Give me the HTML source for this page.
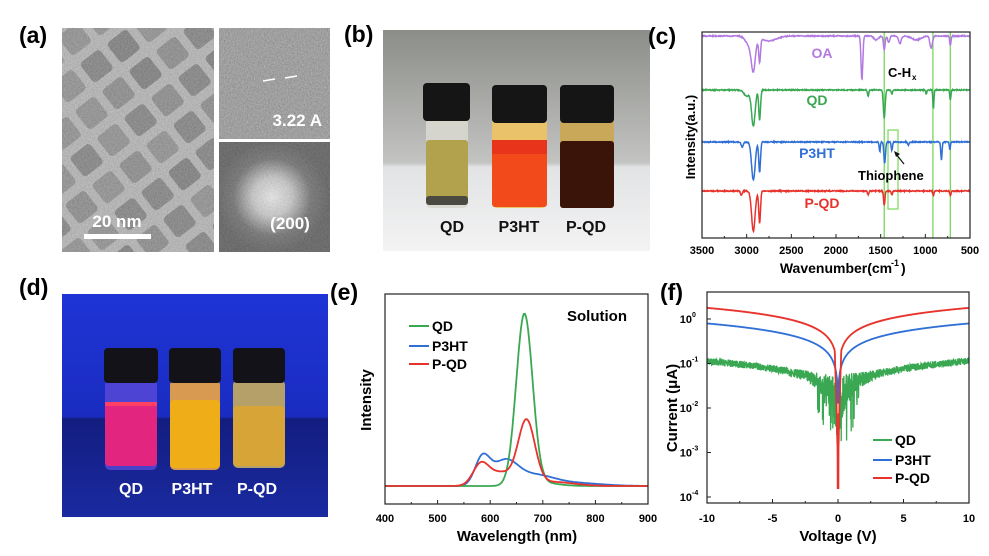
<!DOCTYPE html>
<html><head><meta charset="utf-8">
<style>
html,body{margin:0;padding:0;background:#fff;}
svg{display:block;font-family:"Liberation Sans",Arial,sans-serif;font-weight:bold;}
</style></head>
<body>
<svg id="s" width="989" height="556" viewBox="0 0 989 556" xmlns="http://www.w3.org/2000/svg">
<defs>
<filter id="grain" x="0" y="0" width="100%" height="100%">
<feTurbulence type="fractalNoise" baseFrequency="0.7" numOctaves="2" seed="5"/>
<feColorMatrix type="matrix" values="0.33 0.33 0.33 0 0  0.33 0.33 0.33 0 0  0.33 0.33 0.33 0 0  0 0 0 0 1"/>
</filter>
<radialGradient id="fft" cx="0.48" cy="0.5" r="0.5">
<stop offset="0" stop-color="#f4f4f4"/><stop offset="0.35" stop-color="#c8c8c8"/><stop offset="0.7" stop-color="#5a5a5a"/><stop offset="1" stop-color="#444"/>
</radialGradient>
<linearGradient id="bbg" x1="0" y1="0" x2="0" y2="1">
<stop offset="0" stop-color="#8b8d88"/><stop offset="0.6" stop-color="#c3c4c2"/><stop offset="0.62" stop-color="#e2e3e4"/><stop offset="1" stop-color="#f3f3f4"/>
</linearGradient>
<linearGradient id="dbg" x1="0" y1="0" x2="0" y2="1">
<stop offset="0" stop-color="#1f34d6"/><stop offset="0.55" stop-color="#1a2cc0"/><stop offset="0.56" stop-color="#131d80"/><stop offset="1" stop-color="#1a2aa0"/>
</linearGradient>
<clipPath id="tem"><rect x="62" y="28" width="152" height="224"/></clipPath>
</defs>

<!-- (a) -->
<text x="19" y="43" font-size="23">(a)</text>
<g clip-path="url(#tem)">
<rect x="62" y="28" width="152" height="224" fill="#b0b0b0"/>
<g id="squares" fill="#6e6e6e"></g>
</g>
<rect x="62" y="28" width="152" height="224" filter="url(#grain)" opacity="0.45"/>
<rect x="84" y="234" width="67" height="5" fill="#fff"/>
<text x="117" y="227" font-size="17" fill="#fff" text-anchor="middle">20 nm</text>
<rect x="219" y="28" width="111" height="111" fill="#777"/>
<rect x="219" y="28" width="111" height="111" filter="url(#grain)" opacity="0.6"/>
<line x1="263" y1="81" x2="275" y2="79" stroke="#fff" stroke-width="1.5"/>
<line x1="285" y1="78" x2="297" y2="76" stroke="#fff" stroke-width="1.5"/>
<text x="322" y="126" font-size="17" fill="#fff" text-anchor="end">3.22 A</text>
<rect x="219" y="142" width="111" height="110" fill="url(#fft)"/>
<rect x="219" y="142" width="111" height="110" filter="url(#grain)" opacity="0.35"/>
<text x="290" y="229" font-size="17" fill="#fff" text-anchor="middle">(200)</text>

<!-- (b) -->
<text x="344" y="42" font-size="23">(b)</text>
<rect x="383" y="30" width="267" height="221" fill="url(#bbg)"/>
<g>
<rect x="426" y="118" width="42" height="90" rx="5" fill="#d9d8cf" opacity="0.9"/>
<rect x="426" y="140" width="42" height="63" rx="3" fill="#b2a14d"/>
<rect x="426" y="196" width="42" height="9" rx="3" fill="#4a4a40"/>
<rect x="423" y="83" width="47" height="38" rx="4" fill="#151515"/>
<rect x="492" y="118" width="55" height="90" rx="5" fill="#e9c26a"/>
<rect x="492" y="140" width="55" height="67" rx="3" fill="#f24a1a"/>
<rect x="492" y="140" width="55" height="14" fill="#e8341a"/>
<rect x="492" y="85" width="55" height="38" rx="4" fill="#151515"/>
<rect x="560" y="118" width="54" height="90" rx="5" fill="#c9a85a"/>
<rect x="560" y="141" width="54" height="67" rx="3" fill="#3a1408"/>
<rect x="560" y="85" width="54" height="38" rx="4" fill="#151515"/>
</g>
<text x="452" y="232" font-size="16" text-anchor="middle" fill="#111">QD</text>
<text x="519" y="232" font-size="16" text-anchor="middle" fill="#111">P3HT</text>
<text x="586" y="232" font-size="16" text-anchor="middle" fill="#111">P-QD</text>

<!-- (c) -->
<text x="648" y="44" font-size="23">(c)</text>
<g id="cplot"></g>

<!-- (d) -->
<text x="19" y="295" font-size="23">(d)</text>
<rect x="62" y="294" width="266" height="223" fill="url(#dbg)"/>
<g>
<rect x="105" y="380" width="52" height="90" rx="5" fill="#5a4ad8" opacity="0.8"/>
<rect x="105" y="402" width="52" height="64" rx="4" fill="#e2257e"/>
<rect x="105" y="402" width="52" height="4" fill="#ff4060"/>
<rect x="104" y="348" width="54" height="35" rx="4" fill="#121218"/>
<rect x="170" y="380" width="50" height="90" rx="5" fill="#d89a50"/>
<rect x="170" y="400" width="50" height="68" rx="4" fill="#efae18"/>
<rect x="169" y="348" width="52" height="35" rx="4" fill="#121218"/>
<rect x="233" y="380" width="52" height="88" rx="5" fill="#b6a06a"/>
<rect x="233" y="406" width="52" height="60" rx="4" fill="#d7a438"/>
<rect x="233" y="348" width="52" height="35" rx="4" fill="#121218"/>
</g>
<text x="131" y="494" font-size="16" text-anchor="middle" fill="#fff">QD</text>
<text x="192" y="494" font-size="16" text-anchor="middle" fill="#fff">P3HT</text>
<text x="257" y="494" font-size="16" text-anchor="middle" fill="#fff">P-QD</text>

<!-- (e) -->
<text x="330" y="300" font-size="23">(e)</text>
<g id="eplot"></g>
<!-- (f) -->
<text x="660" y="300" font-size="23">(f)</text>
<g id="fplot"></g>
</svg>
<script>
var NS="http://www.w3.org/2000/svg";
function el(p,t,a,txt){var e=document.createElementNS(NS,t);for(var k in a)e.setAttribute(k,a[k]);if(txt!==undefined)e.textContent=txt;p.appendChild(e);return e;}
var seed=7;function rnd(){seed=(seed*16807)%2147483647;return (seed-1)/2147483646;}
function gs(x,m,s){return Math.exp(-0.5*Math.pow((x-m)/s,2));}
// TEM squares (diamond lattice)
var sq=document.getElementById('squares');
for(var i=-6;i<12;i++)for(var j=-6;j<12;j++){
 var cx=40+i*27+j*22, cy=0+j*27-i*20;
 var g=el(sq,'rect',{x:cx,y:cy,width:25,height:25,rx:4,transform:'rotate(-38 '+(cx+12)+' '+(cy+12)+')'});
 g.setAttribute('fill',['#666','#727272','#5e5e5e','#7a7a7a'][Math.floor(rnd()*4)]);
}
// (c)
var c=document.getElementById('cplot');
var cx0=702,cx1=970,cy0=32,cy1=238;
function kx(k){return cx0+(3500-k)*268/3000;}
[1460,915,720].forEach(function(k){el(c,'line',{x1:kx(k),y1:cy0,x2:kx(k),y2:cy1,stroke:'#7ad85a','stroke-width':1.3});});
el(c,'rect',{x:888,y:130,width:10,height:79,fill:'none',stroke:'#7ad85a','stroke-width':1.2});
var traces=[
 {b:36,col:'#b27ae0',d:[[2925,28,22],[2855,24,10],[2960,10,45],[2750,5,80],[1710,44,10],[1460,14,9],[1410,6,12],[1285,8,14],[1100,4,50],[935,12,14],[720,10,7],[1550,4,25]]},
 {b:90,col:'#3aa852',d:[[2925,36,20],[2855,30,10],[3000,6,30],[1640,6,7],[1460,28,10],[1375,4,7],[990,4,6],[910,18,6],[720,10,6]]},
 {b:142,col:'#2f6fd6',d:[[2925,38,20],[2855,30,10],[3050,5,12],[1510,10,6],[1455,21,9],[1375,8,7],[1190,3,8],[820,18,7],[725,8,6]]},
 {b:191,col:'#e8322c',d:[[2925,40,20],[2855,32,10],[3060,4,10],[1640,4,7],[1460,14,8],[1375,4,6],[910,5,6],[720,5,6]]}
];
traces.forEach(function(t){var p='';for(var k=3500;k>=500;k-=4){var y=t.b;t.d.forEach(function(d){y+=d[1]*gs(k,d[0],d[2]);});y+=(rnd()-0.5)*1.0;p+=(k==3500?'M':'L')+kx(k).toFixed(1)+' '+y.toFixed(1);}el(c,'path',{d:p,fill:'none',stroke:t.col,'stroke-width':1.5});});
el(c,'rect',{x:cx0,y:cy0,width:cx1-cx0,height:cy1-cy0,fill:'none',stroke:'#222','stroke-width':1.2});
for(var k=3500;k>=500;k-=250){el(c,'line',{x1:kx(k),y1:cy1,x2:kx(k),y2:cy1-(k%500==0?4:2),stroke:'#222'});if(k%500==0)el(c,'text',{x:kx(k),y:254,'font-size':11,'text-anchor':'middle'},k);}
el(c,'text',{x:836,y:273,'font-size':14,'text-anchor':'middle'},'Wavenumber(cm');
el(c,'text',{x:891,y:266,'font-size':9},'-1');el(c,'text',{x:901,y:273,'font-size':14},')');
el(c,'text',{x:0,y:0,'font-size':13,'text-anchor':'middle',transform:'translate(695 137) rotate(-90)'},'Intensity(a.u.)');
el(c,'text',{x:822,y:58,'font-size':14,'text-anchor':'middle',fill:'#b27ae0'},'OA');
el(c,'text',{x:817,y:105,'font-size':14,'text-anchor':'middle',fill:'#3aa852'},'QD');
el(c,'text',{x:817,y:158,'font-size':14,'text-anchor':'middle',fill:'#2f6fd6'},'P3HT');
el(c,'text',{x:822,y:208,'font-size':14,'text-anchor':'middle',fill:'#e8322c'},'P-QD');
el(c,'text',{x:888,y:77,'font-size':13},'C-H');el(c,'text',{x:912,y:80,'font-size':8},'x');
el(c,'text',{x:858,y:180,'font-size':13},'Thiophene');
el(c,'line',{x1:904,y1:164,x2:896,y2:154,stroke:'#111','stroke-width':1.2});
el(c,'path',{d:'M894 151 L900 154 L896 157 Z',fill:'#111'});
// (e)
var e=document.getElementById('eplot');
var ex0=385,ex1=648,ey0=294,ey1=504,eb=486;
function wx(w){return ex0+(w-400)*263/500;}
function qd(w){return 171*gs(w,665,15.5)+3*gs(w,700,30);}
function pqd(w){return 64*gs(w,669,16)+21*gs(w,582,15)+13*gs(w,620,22)+4*gs(w,720,40);}
function p3(w){return 27*gs(w,585,14)+24*gs(w,628,24)+10*gs(w,685,35)+3*gs(w,760,50);}
[[p3,'#2f6fd6'],[qd,'#3aa852'],[pqd,'#e8322c']].forEach(function(s){var p='';for(var w=400;w<=900;w+=2){p+=(w==400?'M':'L')+wx(w).toFixed(1)+' '+(eb-s[0](w)).toFixed(1);}el(e,'path',{d:p,fill:'none',stroke:s[1],'stroke-width':1.8});});
el(e,'rect',{x:ex0,y:ey0,width:ex1-ex0,height:ey1-ey0,fill:'none',stroke:'#222','stroke-width':1.2});
for(var w=400;w<=900;w+=50){el(e,'line',{x1:wx(w),y1:ey1,x2:wx(w),y2:ey1-(w%100==0?4:2),stroke:'#222'});if(w%100==0)el(e,'text',{x:wx(w),y:522,'font-size':11,'text-anchor':'middle'},w);}
el(e,'text',{x:517,y:541,'font-size':15,'text-anchor':'middle'},'Wavelength (nm)');
el(e,'text',{x:0,y:0,'font-size':15,'text-anchor':'middle',transform:'translate(371 400) rotate(-90)'},'Intensity');
el(e,'text',{x:597,y:321,'font-size':15,'text-anchor':'middle'},'Solution');
[['QD','#3aa852',326],['P3HT','#2f6fd6',346],['P-QD','#e8322c',364]].forEach(function(l){el(e,'line',{x1:409,y1:l[2],x2:429,y2:l[2],stroke:l[1],'stroke-width':2});el(e,'text',{x:432,y:l[2]+5,'font-size':14},l[0]);});
// (f)
var f=document.getElementById('fplot');
var fx0=707,fx1=969,fy0=292,fy1=503;
function vx(v){return fx0+(v+10)*262/20;}function ly(l){return 319-l*44.5;}
function curve(fn,col,step,w){var p='';for(var v=-10;v<=10.0001;v+=step){p+=(p?'L':'M')+vx(v).toFixed(1)+' '+ly(fn(v)).toFixed(1);}el(f,'path',{d:p,fill:'none',stroke:col,'stroke-width':w});}
curve(function(v){var a=Math.abs(v);var l=-0.95+0.55*Math.log10(Math.max(a,0.05)/10);var amp=0.08+0.55*Math.exp(-a/1.0);return Math.max(-3,l+(rnd()-0.5)*amp*2-(a<1.6&&rnd()<0.15?0.9*rnd():0));},'#3aa852',0.012,1.3);
curve(function(v){var a=Math.abs(v);return Math.max(-2.1,-0.1+0.6*Math.log10(Math.max(a,0.01)/10));},'#2f6fd6',0.02,1.8);
curve(function(v){var a=Math.abs(v);if(a<0.03)return -3.8;return Math.max(-3.8,0.25+0.6*Math.log10(a/10)-(a<0.25?(0.25-a)*8:0));},'#e8322c',0.01,1.8);
el(f,'rect',{x:fx0,y:fy0,width:fx1-fx0,height:fy1-fy0,fill:'none',stroke:'#222','stroke-width':1.2});
for(var v=-10;v<=10;v+=2.5){el(f,'line',{x1:vx(v),y1:fy1,x2:vx(v),y2:fy1-(v%5==0?4:2),stroke:'#222'});if(v%5==0)el(f,'text',{x:vx(v),y:522,'font-size':11,'text-anchor':'middle'},v);}
for(var d=0;d>=-4;d--){var y=ly(d);el(f,'line',{x1:fx0,y1:y,x2:fx0+4,y2:y,stroke:'#222'});el(f,'text',{x:fx0-15,y:y+4,'font-size':11,'text-anchor':'end'},'10');el(f,'text',{x:fx0-15,y:y-2,'font-size':7},String(d));}
el(f,'text',{x:838,y:541,'font-size':15,'text-anchor':'middle'},'Voltage (V)');
el(f,'text',{x:0,y:0,'font-size':15,'text-anchor':'middle',transform:'translate(677 408) rotate(-90)'},'Current (\u03bcA)');
[['QD','#3aa852',440],['P3HT','#2f6fd6',460],['P-QD','#e8322c',478]].forEach(function(l){el(f,'line',{x1:873,y1:l[2],x2:892,y2:l[2],stroke:l[1],'stroke-width':2});el(f,'text',{x:895,y:l[2]+5,'font-size':14},l[0]);});
</script>
</body></html>
